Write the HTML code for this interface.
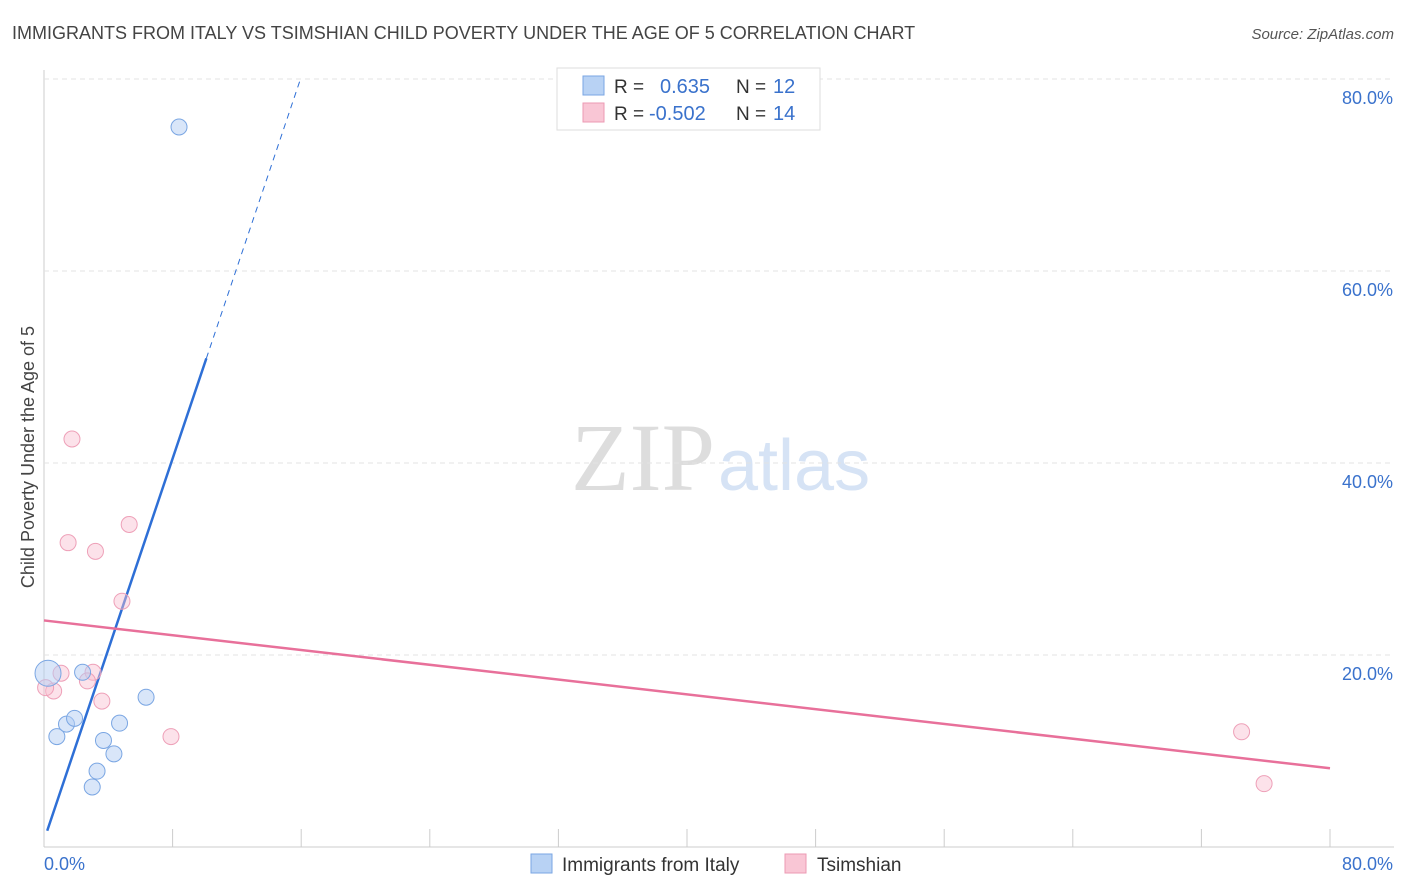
<!DOCTYPE html>
<html><head><meta charset="utf-8"><style>
body{margin:0;background:#fff;font-family:"Liberation Sans",sans-serif;}
svg{display:block}
</style></head><body>
<svg id="c" width="1406" height="892">
<text x="12" y="39" font-size="18" fill="#444">IMMIGRANTS FROM ITALY VS TSIMSHIAN CHILD POVERTY UNDER THE AGE OF 5 CORRELATION CHART</text>
<text x="1394" y="39" font-size="15" fill="#555" font-style="italic" text-anchor="end">Source: ZipAtlas.com</text>
<text transform="translate(34,457) rotate(-90)" font-size="18" fill="#444" text-anchor="middle">Child Poverty Under the Age of 5</text>
<text x="715" y="490" font-size="96" fill="#ddd" text-anchor="end" font-family="Liberation Serif,serif">ZIP</text>
<text x="718" y="490" font-size="72" fill="#d6e3f5">atlas</text>
<g id="grid"></g><g id="lines"></g><g id="pts"></g>
<g>
<rect x="557" y="68" width="263" height="62" fill="#fff" stroke="#ddd"/>
<rect x="583" y="76" width="21" height="19" fill="#b8d2f4" stroke="#7aa6e3"/>
<rect x="583" y="103" width="21" height="19" fill="#f9c6d5" stroke="#ec9ab3"/>
<text x="614" y="93" font-size="19" fill="#333">R =</text><text x="660" y="93" font-size="20" fill="#3a72cc">0.635</text>
<text x="736" y="93" font-size="19" fill="#333">N =</text><text x="773" y="93" font-size="20" fill="#3a72cc">12</text>
<text x="614" y="120" font-size="19" fill="#333">R =</text><text x="649" y="120" font-size="20" fill="#3a72cc">-0.502</text>
<text x="736" y="120" font-size="19" fill="#333">N =</text><text x="773" y="120" font-size="20" fill="#3a72cc">14</text>
</g>
<g>
<rect x="531" y="854" width="21" height="19" fill="#b8d2f4" stroke="#7aa6e3"/>
<text x="562" y="871" font-size="19" fill="#333">Immigrants from Italy</text>
<rect x="785" y="854" width="21" height="19" fill="#f9c6d5" stroke="#ec9ab3"/>
<text x="817" y="871" font-size="19" fill="#333">Tsimshian</text>
</g>
</svg>
<script>
const yTicks=[20,40,60,80];
const xTickLabels=["0.0%","80.0%"];
const italyX=[8.4,0.25,0.8,1.4,1.9,2.4,3.0,3.3,3.7,4.35,4.7,6.35];
const italyY=[75,18.1,11.5,12.8,13.4,18.2,6.25,7.9,11.1,9.7,12.9,15.6];
const tsimX=[1.74,1.5,3.2,5.3,4.85,1.06,3.05,2.7,0.6,3.6,7.9,74.5,75.9,0.1];
const tsimY=[42.5,31.7,30.8,33.6,25.6,18.1,18.2,17.3,16.25,15.2,11.5,12,6.6,16.6];
const italyFit=[0.7,4.97];
const tsimFit=[23.6,-0.1925];
const NS="http://www.w3.org/2000/svg";
const sx=v=>44+v*16.075, sy=v=>847-v*9.6;
function mk(p,t,a){const e=document.createElementNS(NS,t);for(const k in a)e.setAttribute(k,a[k]);document.getElementById(p).appendChild(e);return e;}
let e;
e=mk('grid','line',{x1:44,y1:70,x2:44,y2:847,stroke:'#ccc'});


e=mk('grid','line',{x1:44,y1:847,x2:1394,y2:847,stroke:'#ccc'});


yTicks.forEach(t=>{
 e=mk('grid','line',{x1:44,y1:sy(t),x2:1394,y2:sy(t),stroke:'#e3e3e3','stroke-dasharray':'5,4'});
 
 
 e=mk('grid','text',{x:1393,y:sy(t)+25,'font-size':18,fill:'#3a72cc','text-anchor':'end'});
 e.textContent=t.toFixed(1)+'%';
 
 
});
for(let i=0;i<=10;i++){
 e=mk('grid','line',{x1:sx(i*8),y1:829,x2:sx(i*8),y2:847,stroke:'#ccc'});
 
 
}
e=mk('grid','text',{x:44,y:870,'font-size':18,fill:'#3a72cc'});e.textContent=xTickLabels[0];


e=mk('grid','text',{x:1393,y:870,'font-size':18,fill:'#3a72cc','text-anchor':'end'});e.textContent=xTickLabels[1];


// fits
const fy=(f,x)=>f[0]+f[1]*x;
const xEnd=(80-italyFit[0])/italyFit[1];
e=mk('lines','line',{x1:sx(0.2),y1:sy(fy(italyFit,0.2)),x2:sx(10.1),y2:sy(fy(italyFit,10.1)),stroke:'#2e6fd6','stroke-width':2.5});


e=mk('lines','line',{x1:sx(10.1),y1:sy(fy(italyFit,10.1)),x2:sx(xEnd),y2:sy(80),stroke:'#2e6fd6','stroke-width':1,'stroke-dasharray':'6,5'});


e=mk('lines','line',{x1:sx(0),y1:sy(fy(tsimFit,0)),x2:sx(80),y2:sy(fy(tsimFit,80)),stroke:'#e8709a','stroke-width':2.5});


tsimX.forEach((x,i)=>{
 e=mk('pts','circle',{cx:sx(x),cy:sy(tsimY[i]),r:8,fill:'rgba(249,190,208,0.45)',stroke:'#eea0b8'});
 
 
});
italyX.forEach((x,i)=>{
 e=mk('pts','circle',{cx:sx(x),cy:sy(italyY[i]),r:i==1?13:8,fill:'rgba(180,206,244,0.5)',stroke:'#7aa6e3'});
 
 
});
</script>
</body></html>
